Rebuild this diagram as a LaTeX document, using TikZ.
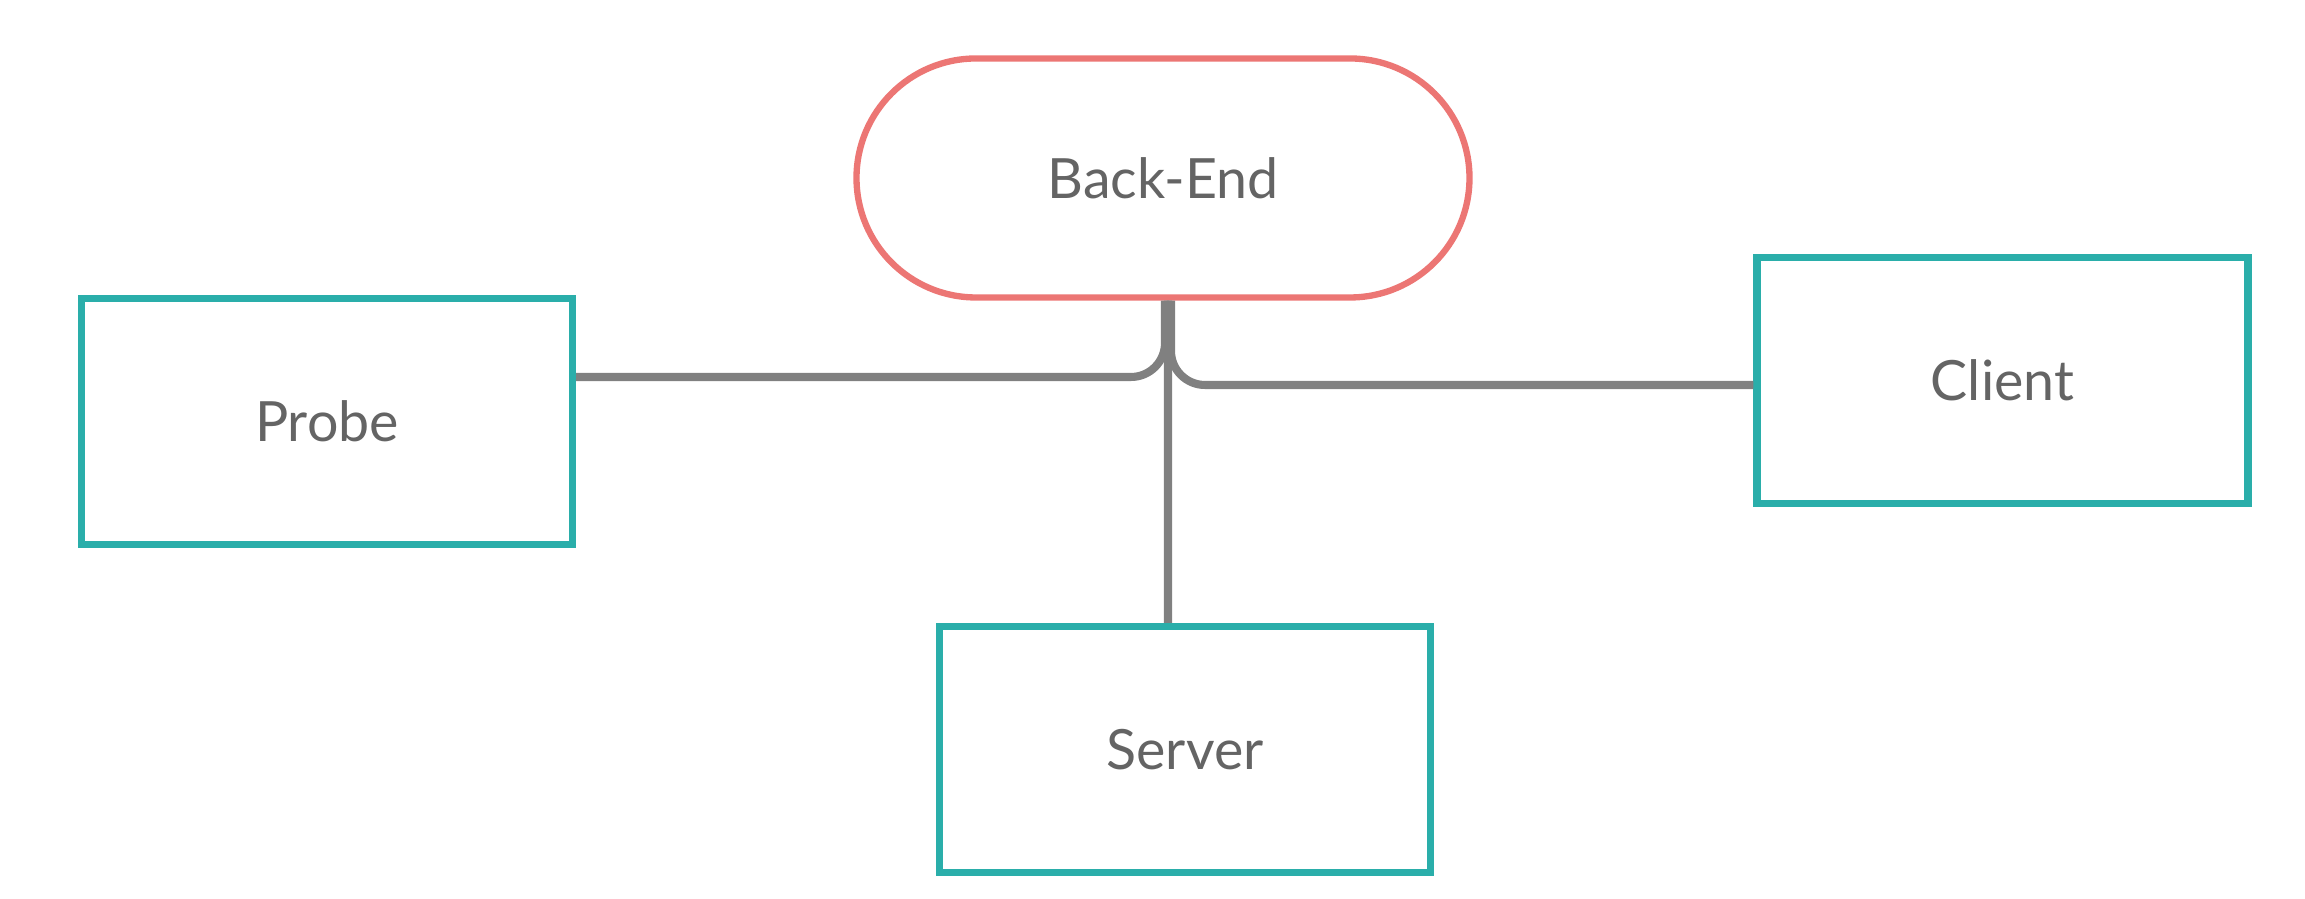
\documentclass[tikz,border=0pt]{standalone}
\usepackage{fontspec}
\setmainfont{Lato}
\usepackage{xcolor}
\usetikzlibrary{calc,positioning}
\definecolor{tealbox}{RGB}{42,174,170}
\definecolor{redbox}{RGB}{236,118,116}
\definecolor{wire}{RGB}{128,128,128}
\definecolor{txt}{RGB}{100,100,100}
\tikzset{box/.style={draw=tealbox,line width=2pt,fill=white,minimum width=4.91cm,minimum height=2.46cm,
  inner sep=0pt,font=\fontsize{15.8}{18}\selectfont,text=txt},
  link/.style={draw=wire,line width=2.3pt,rounded corners=0.34cm}}

\begin{document}
\begin{tikzpicture}[
 hub/.style={box,draw=redbox,line width=1.8pt,minimum width=6.13cm,minimum height=2.39cm,rounded corners=1.195cm}]
\useasboundingbox (0,0) rectangle (23.05,8.99);
\node[hub] (be) at (11.63,7.21) {Back-End};
\node[box] (probe) at (3.27,4.775) {Probe};
\node[box] (client) at (20.025,5.185) {Client};
\node[box] (server) at (11.85,1.495) {Server};
\draw[link] ([yshift=4.45mm]probe.east) -| ([xshift=0.2mm]be.south);
\draw[link] ([yshift=-0.45mm]client.west) -| ([xshift=0.8mm]be.south);
\draw[link] ([xshift=-1.7mm]server.north) -- ([xshift=0.5mm]be.south);
\end{tikzpicture}
\end{document}
